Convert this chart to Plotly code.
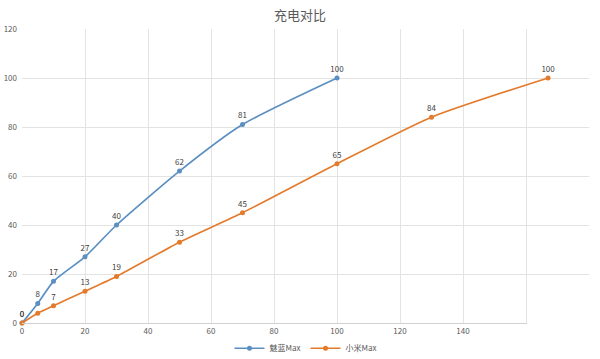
import plotly.graph_objects as go

blue_name = "魅蓝Max"
blue_x = [0, 5, 10, 20, 30, 50, 70, 100]
blue_y = [0, 8, 17, 27, 40, 62, 81, 100]
blue_pos = ["top center"] * len(blue_x)

orange_name = "小米Max"
orange_x = [0, 5, 10, 20, 30, 50, 70, 100, 130, 167]
orange_y = [0, 4, 7, 13, 19, 33, 45, 65, 84, 100]
orange_text = ["0", "", "7", "13", "19", "33", "45", "65", "84", "100"]
orange_pos = ["top center"] * len(orange_x)

x_ticks = [0, 20, 40, 60, 80, 100, 120, 140, 160, 180]
x_ticktext = ["0", "20", "40", "60", "80", "100", "120", "140", "", ""]
y_ticks = [0, 20, 40, 60, 80, 100, 120]

BLUE = "#5B8FC2"
ORANGE = "#E47B2C"

fig = go.Figure()
fig.add_trace(go.Scatter(
    x=blue_x, y=blue_y, name=blue_name, mode="lines+markers+text",
    line=dict(color=BLUE, width=1.7, shape="spline", smoothing=0.6),
    marker=dict(color=BLUE, size=5),
    text=[str(v) for v in blue_y], textposition=blue_pos,
    textfont=dict(size=8, color="#404040"), cliponaxis=False,
))
fig.add_trace(go.Scatter(
    x=orange_x, y=orange_y, name=orange_name, mode="lines+markers+text",
    line=dict(color=ORANGE, width=1.7, shape="spline", smoothing=0.6),
    marker=dict(color=ORANGE, size=5),
    text=orange_text, textposition=orange_pos,
    textfont=dict(size=8, color="#404040"), cliponaxis=False,
))

fig.update_layout(
    width=600, height=359,
    margin=dict(l=22, r=11, t=29, b=36, autoexpand=False),
    paper_bgcolor="white", plot_bgcolor="white",
    font=dict(family="Noto Sans CJK SC, Noto Sans, sans-serif", color="#595959"),
    title=dict(text="充电对比", x=0.5, xanchor="center", y=0.958, yanchor="middle",
               font=dict(size=13, color="#595959")),
    showlegend=True,
    legend=dict(orientation="h", x=0.5, xanchor="center",
                yref="container", y=0.03, yanchor="middle",
                font=dict(size=8, color="#595959"), itemwidth=30),
    xaxis=dict(range=[0, 180], tickvals=x_ticks, ticktext=x_ticktext,
               showgrid=True, gridcolor="#E3E3E3", gridwidth=1,
               zeroline=False, showline=True, linecolor="#D0D0D0",
               tickfont=dict(size=8, color="#595959"), ticks="", fixedrange=True),
    yaxis=dict(range=[0, 120], tickvals=y_ticks, ticklabelstandoff=4,
               showgrid=True, gridcolor="#E3E3E3", gridwidth=1,
               zeroline=False, showline=False,
               tickfont=dict(size=8, color="#595959"), ticks="", fixedrange=True),
    shapes=[dict(type="rect", xref="paper", yref="paper",
                 x0=160 / 180 + 0.002, x1=1.05, y0=-0.15, y1=0.004,
                 fillcolor="white", line=dict(width=0), layer="above")],
)

fig.write_html("out.html")
